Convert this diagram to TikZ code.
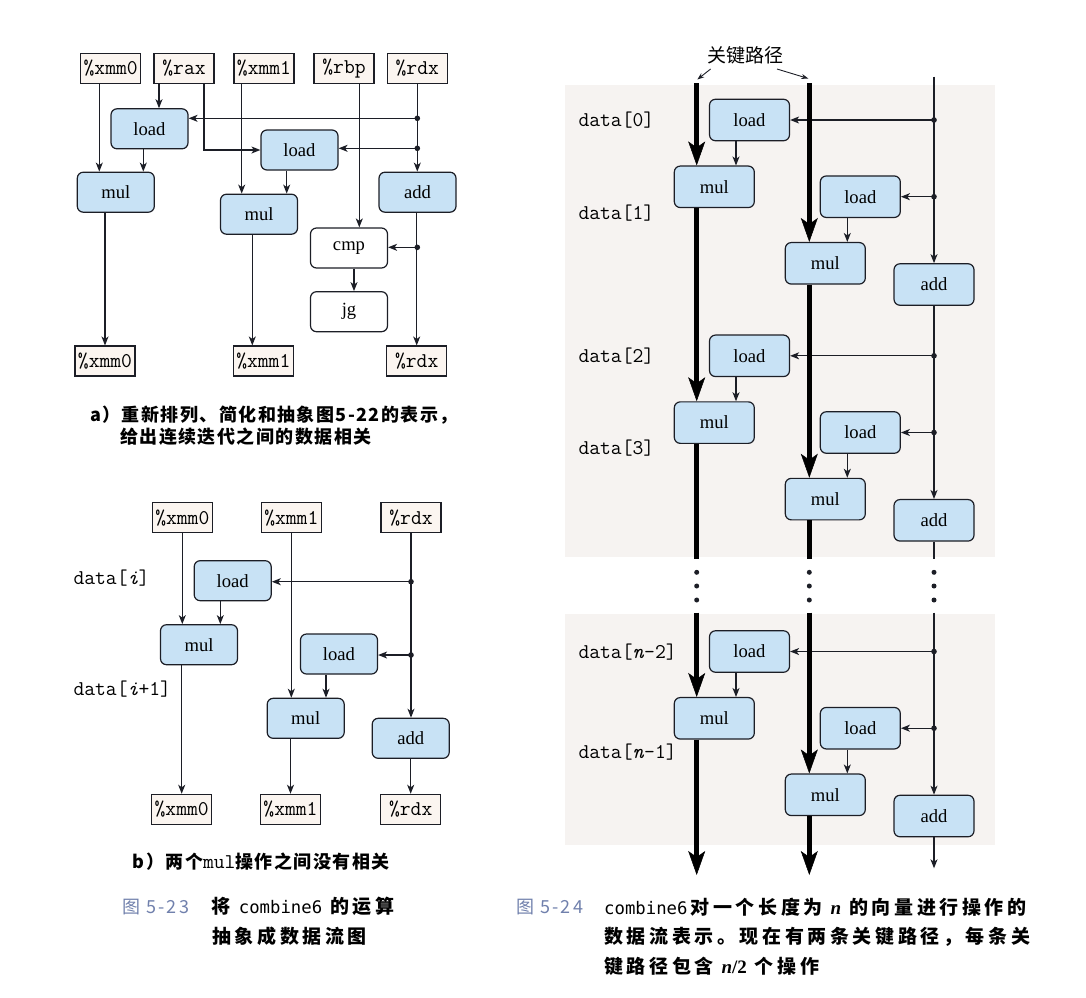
\documentclass[tikz,border=0pt]{standalone}
\usepackage{fontspec}
\setmainfont{Liberation Serif}
\newfontfamily\cjk{Noto Sans CJK SC}
\newfontfamily\cjksub[LetterSpace=8]{Noto Sans CJK SC}
\newfontfamily\cjkcap[LetterSpace=19]{Noto Sans CJK SC}
\newfontfamily\cjknum[LetterSpace=12]{Noto Sans CJK SC}
\newfontfamily\capmono{DejaVu Sans Mono}
\usetikzlibrary{arrows.meta}

\definecolor{opblue}{RGB}{200,226,245}
\definecolor{regfill}{RGB}{251,245,240}
\definecolor{capblue}{RGB}{112,128,172}
\definecolor{paper}{RGB}{246,243,241}
\definecolor{ink}{RGB}{28,30,38}

\newcommand{\vn}{{\rmfamily\bfseries\itshape n}}

\begin{document}
\begin{tikzpicture}[x=1pt, y=-1pt,
  op/.style={draw=ink, line width=1.2pt, rounded corners=6pt, fill=opblue, minimum width=77pt, minimum height=40pt, inner sep=0pt, font=\fontsize{18.6}{20}\selectfont},
  opw/.style={op, fill=white},
  opr/.style={op, minimum width=80pt, minimum height=41.5pt},
  reg/.style={draw=ink, line width=1.1pt, fill=regfill, minimum width=60pt, minimum height=30pt, inner sep=0pt, font=\fontsize{21}{22}\ttfamily},
  lbl/.style={anchor=west, inner sep=0pt, font=\fontsize{21}{22}\ttfamily},
  captxt/.style={anchor=west, inner sep=0pt},
  wire/.style={draw=ink, line width=1.2pt, -{Stealth[length=9pt, width=7pt, inset=2.5pt]}},
  plain/.style={draw=ink, line width=1.2pt},
  critpath/.style={draw=black, line width=4.5pt, -{Stealth[length=24pt, width=17pt, inset=6pt, line width=0.5pt]}},
  critseg/.style={draw=black, line width=4.5pt}]
\useasboundingbox (0,0) rectangle (1086,997);

%%% a) iteration graph
\node[reg] (ax0) at (110.7,68.3) {\%xmm0};
\node[reg] (arax) at (184,68.3) {\%rax};
\node[reg] (ax1) at (264,68.3) {\%xmm1};
\node[reg] (arbp) at (344,68.3) {\%rbp};
\node[reg] (ardx) at (417.3,68.3) {\%rdx};
\node[op] (aload1) at (149.5,128.8) {load};
\node[op] (aload2) at (299.5,150) {load};
\node[op] (amul1) at (115.8,192.2) {mul};
\node[op] (amul2) at (259,214.2) {mul};
\node[op] (aadd) at (417.5,192.2) {add};
\node[opw] (acmp) at (349,248) {cmp};
\node[opw] (ajg) at (349,311.7) {jg};
\node[reg] (ax0o) at (105,361) {\%xmm0};
\node[reg] (ax1o) at (263.3,361) {\%xmm1};
\node[reg] (ardxo) at (416.7,361) {\%rdx};

\draw[wire] ([xshift=-11.4]ax0.south) -- ([xshift=-11.4]ax0.south |- amul1.north); % xmm0 in
\draw[wire] ([xshift=-25]arax.south) -- ([xshift=-25]arax.south |- aload1.north); % rax to load 1
\draw[wire] ([xshift=20]arax.south) |- (aload2.west); % rax to load 2
\draw[wire] ([xshift=-6.2]aload1.south) -- ([xshift=-6.2]aload1.south |- amul1.north);
\draw[wire] (ax0o.north |- amul1.south) -- (ax0o.north); % xmm0 out
\draw[wire] ([xshift=-22.3]ax1.south) -- ([xshift=-22.3]ax1.south |- amul2.north); % xmm1 in
\draw[wire] ([xshift=-12.8]aload2.south) -- ([xshift=-12.8]aload2.south |- amul2.north);
\draw[wire] ([xshift=-6.7]amul2.south) -- ([xshift=-6.7]amul2.south |- ax1o.north); % xmm1 out
\draw[wire] ([xshift=15.3]arbp.south) -- ([xshift=15.3]arbp.south |- acmp.north); % rbp
\draw[wire] ([xshift=5]acmp.south) -- ([xshift=5]acmp.south |- ajg.north);
\draw[wire] (ardx.south) -- (ardx.south |- aadd.north); % rdx in
\draw[wire] (ardxo.north |- aadd.south) -- (ardxo.north); % rdx out
\coordinate (aj1) at (417.3,118.3);
\coordinate (aj2) at (417.3,148.3);
\coordinate (aj3) at (417.3,247.3);
\draw[wire] (aj1) -- (aj1 -| aload1.east);
\draw[wire] (aj2) -- (aj2 -| aload2.east);
\draw[wire] (aj3) -- (aj3 -| acmp.east);
\fill[ink] (aj1) circle (2.8) (aj2) circle (2.8) (aj3) circle (2.8); % junctions

\node[captxt, font=\fontsize{18}{20}\cjksub\bfseries] (capa1) at (90,415) {a）重新排列、简化和抽象图5-22的表示，};
\node[captxt, font=\fontsize{18}{20}\cjksub\bfseries] (capa2) at (120,436.7) {给出连续迭代之间的数据相关};

%%% b) no dependency between the two mul
\node[reg] (bx0) at (182.3,517.7) {\%xmm0};
\node[reg] (bx1) at (291.3,517.7) {\%xmm1};
\node[reg] (brdx) at (411,517.7) {\%rdx};
\node[op] (bload1) at (232.7,580.7) {load};
\node[op] (bmul1) at (199,644.7) {mul};
\node[op] (bload2) at (339,654) {load};
\node[op] (bmul2) at (305.7,718.3) {mul};
\node[op] (badd) at (410.7,738.3) {add};
\node[reg] (bx0o) at (181.7,809.3) {\%xmm0};
\node[reg] (bx1o) at (290.5,809.3) {\%xmm1};
\node[reg] (brdxo) at (410.7,809.3) {\%rdx};
\node[lbl] (bdi) at (73.3,578.3) {data[\textit{i}]};
\node[lbl] (bdi1) at (73.3,689.3) {data[\textit{i}+1]};

\draw[wire] (bx0.south) -- (bx0.south |- bmul1.north);
\draw[wire] ([xshift=-12.4]bload1.south) -- ([xshift=-12.4]bload1.south |- bmul1.north);
\draw[wire] (bx0o.north |- bmul1.south) -- (bx0o.north);
\draw[wire] (bx1.south) -- (bx1.south |- bmul2.north);
\draw[wire] ([xshift=-13]bload2.south) -- ([xshift=-13]bload2.south |- bmul2.north);
\draw[wire] (bx1o.north |- bmul2.south) -- (bx1o.north);
\draw[wire] (brdx.south) -- (brdx.south |- badd.north);
\draw[wire] (badd.south) -- (brdxo.north);
\coordinate (bj1) at (411,581.7);
\coordinate (bj2) at (411,655);
\draw[wire] (bj1) -- (bj1 -| bload1.east);
\draw[wire] (bj2) -- (bj2 -| bload2.east);
\fill[ink] (bj1) circle (2.8) (bj2) circle (2.8);

\node[captxt, font=\fontsize{18}{20}\cjksub\bfseries] (capb) at (132.7,861.7) {b）两个{\fontsize{21}{22}\ttfamily\mdseries mul}操作之间没有相关};

\node[captxt, text=capblue, font=\fontsize{18}{20}\cjknum] (f23) at (122,906.7) {图 5-23};
\node[captxt, font=\fontsize{19}{20}\cjkcap\bfseries] (f23a) at (211.7,906.7) {将 {\fontsize{17.3}{20}\capmono\mdseries combine6} 的运算};
\node[captxt, font=\fontsize{19}{20}\cjkcap\bfseries] (f23b) at (212,936.7) {抽象成数据流图};

%%% 5-24: two critical paths
\fill[paper] (565,85) rectangle (995,557); % scanned page tint
\fill[paper] (565,614) rectangle (995,845);
\node[inner sep=0pt, font=\fontsize{19}{20}\cjk] (critlbl) at (745.8,55) {关键路径};
\coordinate (cpa) at (696.7,0); % left critical path
\coordinate (cpb) at (809.3,0); % right critical path
\coordinate (cth) at (934,0); % add chain
\coordinate (tipa) at (697.3,79.5);
\coordinate (tipb) at (808.3,78.5);

\foreach \Y/\k/\la/\lb/\dl in {120/0/0/1/92.7, 355.8/2/2/3/92.5, 651.5/n/{\textit{n}-2}/{\textit{n}-1}/100.2}{
  \node[opr] (la\k) at (749.5,\Y) {load};
  \node[opr] (ma\k) at (714.3,\Y+66.8) {mul};
  \node[opr] (lb\k) at (860.3,\Y+76.7) {load};
  \node[opr] (mb\k) at (825.3,\Y+143.3) {mul};
  \node[opr] (ad\k) at (934,\Y+164.5) {add};
  \node[lbl] (da\k) at (578.3,\Y+0.5) {data[\la]};
  \node[lbl] (db\k) at (578.3,\Y+\dl) {data[\lb]};
  \draw[wire] ([xshift=-13.5]la\k.south) -- ([xshift=-13.5]la\k.south |- ma\k.north);
  \draw[wire] ([xshift=-13]lb\k.south) -- ([xshift=-13]lb\k.south |- mb\k.north);
  \draw[wire] (la\k.east -| cth) -- (la\k.east);
  \draw[wire] (lb\k.east -| cth) -- (lb\k.east);
  \fill[ink] (la\k.east -| cth) circle (2.8) (lb\k.east -| cth) circle (2.8);
}

\draw[critpath] (cpa |- 0,83.3) -- (ma0.north -| cpa); % left path
\draw[critpath] (ma0.south -| cpa) -- (ma2.north -| cpa);
\draw[critseg] (ma2.south -| cpa) -- (cpa |- 0,559.3);
\draw[critpath] (cpa |- 0,612.7) -- (man.north -| cpa);
\draw[critpath] (man.south -| cpa) -- (cpa |- 0,875);
\draw[critpath] (cpb |- 0,83.3) -- (mb0.north -| cpb); % right path
\draw[critpath] (mb0.south -| cpb) -- (mb2.north -| cpb);
\draw[critseg] (mb2.south -| cpb) -- (cpb |- 0,559.3);
\draw[critpath] (cpb |- 0,612.7) -- (mbn.north -| cpb);
\draw[critpath] (mbn.south -| cpb) -- (cpb |- 0,875);
\draw[wire] (cth |- 0,76.7) -- (ad0.north); % add chain
\draw[wire] (ad0.south) -- (ad2.north);
\draw[plain] (ad2.south) -- (cth |- 0,559.3);
\draw[wire] (cth |- 0,612.7) -- (adn.north);
\draw[wire] (adn.south) -- (cth |- 0,868.3);
\foreach \c in {cpa,cpb,cth}
  \foreach \d in {572.3,586,600}
    \fill[ink] (\c |- 0,\d) circle (2.5); % vertical ellipsis

\draw[wire, line width=0.9pt, -{Stealth[length=7pt, width=5pt]}] ([xshift=3,yshift=-5]critlbl.south west) -- (tipa);
\draw[wire, line width=0.9pt, -{Stealth[length=7pt, width=5pt]}] ([xshift=-7,yshift=-5]critlbl.south east) -- (tipb);

\node[captxt, text=capblue, font=\fontsize{18}{20}\cjknum] (f24) at (516,907) {图 5-24};
\node[captxt, font=\fontsize{19}{20}\cjkcap\bfseries] (f24a) at (604,907) {{\fontsize{17.3}{20}\capmono\mdseries combine6}\,对一个长度为 \vn{} 的向量进行操作的};
\node[captxt, font=\fontsize{19}{20}\cjkcap\bfseries] (f24b) at (604,937) {数据流表示。现在有两条关键路径，每条关};
\node[captxt, font=\fontsize{19}{20}\cjkcap\bfseries] (f24c) at (604,966) {键路径包含 \vn{\rmfamily\bfseries /2} 个操作};

\end{tikzpicture}
\end{document}
